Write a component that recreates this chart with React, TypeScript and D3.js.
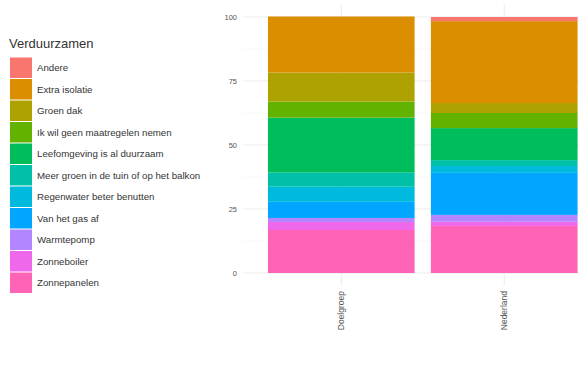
import React from "react";
import * as d3 from "d3";

const categories = ["Doelgroep", "Nederland"];
const seriesNames = [
  "Andere",
  "Extra isolatie",
  "Groen dak",
  "Ik wil geen maatregelen nemen",
  "Leefomgeving is al duurzaam",
  "Meer groen in de tuin of op het balkon",
  "Regenwater beter benutten",
  "Van het gas af",
  "Warmtepomp",
  "Zonneboiler",
  "Zonnepanelen",
];
const valuesDoelgroep = [0, 21.9, 11.3, 6.3, 21.5, 5.5, 5.9, 6.3, 1.6, 3.1, 16.8];
const valuesNederland = [1.6, 32.0, 3.9, 5.9, 12.5, 2.3, 2.7, 16.4, 2.7, 1.6, 18.4];
const colors = [
  "#F8766D", "#DB8E00", "#AEA200", "#64B200", "#00BD5C", "#00C1A7",
  "#00BADE", "#00A6FF", "#B385FF", "#EF67EB", "#FF63B6",
];
const yTicks = [0, 25, 50, 75, 100];
const yMinor = [12.5, 37.5, 62.5, 87.5];

export default function App() {
  const W = 579, H = 377;
  const y = d3.scaleLinear().domain([0, 100]).range([273, 17]);
  const x = d3.scaleBand<string>().domain(categories).range([243.5, 602]).paddingInner(0.1).paddingOuter(0.15);
  const color = d3.scaleOrdinal<string, string>().domain(seriesNames).range(colors);

  const rows = categories.map((c, i) => {
    const vals = i === 0 ? valuesDoelgroep : valuesNederland;
    const r: any = { cat: c };
    seriesNames.forEach((s, j) => (r[s] = vals[j]));
    return r;
  });
  const stack = d3.stack<any>().keys([...seriesNames].reverse());
  const layers = stack(rows);

  const panelTop = y(105), panelBottom = y(-5);
  const legendTop = 57, keyH = 21.5;

  return (
    <svg width={W} height={H} style={{ position: "absolute", left: 0, top: 0, background: "#fff" }} fontFamily="Liberation Sans, Arial, sans-serif">
      {yMinor.map((t) => (
        <line key={"m" + t} x1={243.5} x2={602} y1={y(t)} y2={y(t)} stroke="#F2F2F2" strokeWidth={0.5} />
      ))}
      {yTicks.map((t) => (
        <line key={"g" + t} x1={243.5} x2={602} y1={y(t)} y2={y(t)} stroke="#EBEBEB" strokeWidth={1} />
      ))}
      {categories.map((c) => (
        <line key={"v" + c} x1={x(c)! + x.bandwidth() / 2} x2={x(c)! + x.bandwidth() / 2} y1={panelTop} y2={panelBottom} stroke="#EBEBEB" />
      ))}
      {layers.map((layer) => (
        <g key={layer.key} fill={color(layer.key)}>
          {layer.map((d, i) => (
            <rect key={i} x={x(d.data.cat)} width={x.bandwidth()} y={y(d[1])} height={Math.max(0, y(d[0]) - y(d[1]))} />
          ))}
        </g>
      ))}
      {yTicks.map((t) => (
        <text key={"t" + t} x={237} y={y(t)} dy="0.35em" textAnchor="end" fontSize={7.5} fill="#555">
          {t}
        </text>
      ))}
      {categories.map((c) => {
        const cx = x(c)! + x.bandwidth() / 2;
        return (
          <text key={"x" + c} transform={`translate(${cx},${291}) rotate(-90)`} textAnchor="end" dy="0.35em" fontSize={8.5} fill="#555">
            {c}
          </text>
        );
      })}
      <text x={9} y={48} fontSize={13} fill="#333">Verduurzamen</text>
      {seriesNames.map((s, i) => (
        <g key={s}>
          <rect x={10} y={legendTop + i * keyH + 0.5} width={22} height={keyH - 1} fill={color(s)} />
          <text x={37} y={legendTop + i * keyH + keyH / 2} dy="0.35em" fontSize={9.7} fill="#333">
            {s}
          </text>
        </g>
      ))}
    </svg>
  );
}
